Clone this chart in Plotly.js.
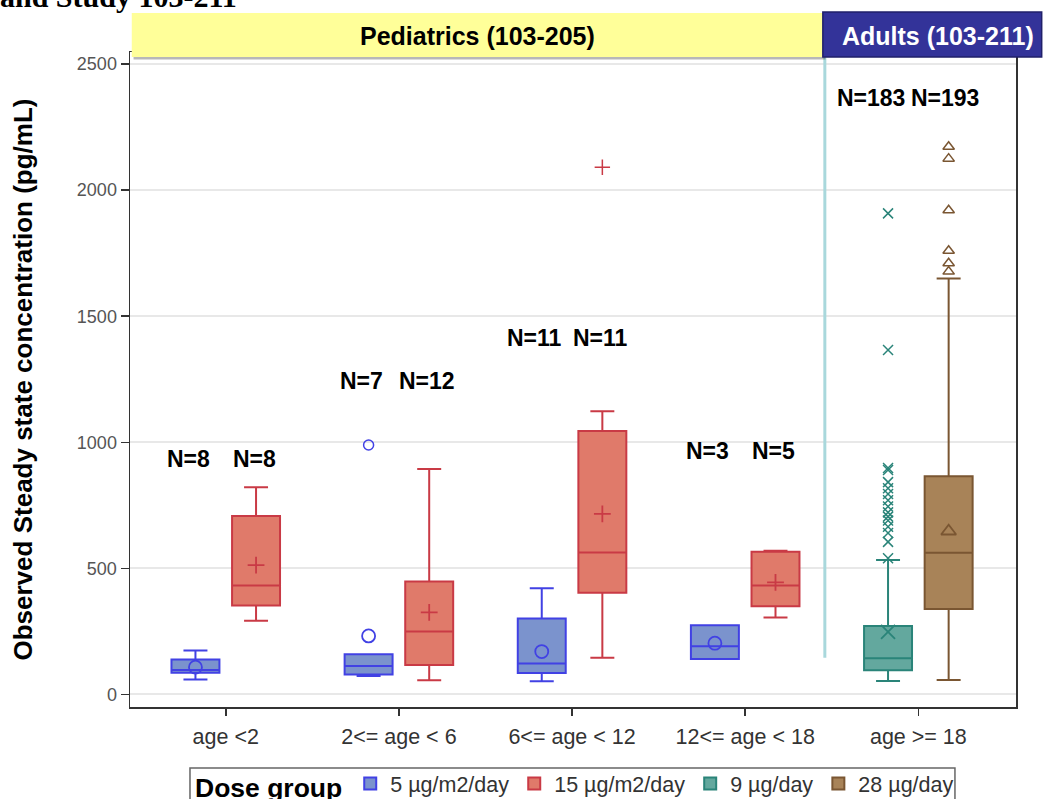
<!DOCTYPE html>
<html>
<head>
<meta charset="utf-8">
<script src="https://cdn.plot.ly/plotly-3.0.1.min.js"></script>
<style>
  html, body { margin: 0; padding: 0; background: #fff; }
  #chart { width: 1045px; height: 799px; }
</style>
</head>
<body>
<div id="chart"></div>
<script>
// Age categories on the x axis
const categories = ['age <2', '2<= age < 6', '6<= age < 12', '12<= age < 18', 'age >= 18'];
const yTicks = [0, 500, 1000, 1500, 2000, 2500];

// 5 µg/m2/day (pediatrics) box statistics per age category
const blueCat = [0, 1, 2, 3];
const blueLow = [59, 73, 52, 140];
const blueQ1 = [86, 79, 85, 140];
const blueMed = [97, 113, 123, 191];
const blueQ3 = [138, 159, 301, 274];
const blueHigh = [174, 159, 421, 274];
const blueMean = [108, 232, 170, 203];
const blueN = [8, 7, 11, 3];
const blueOutCat = [1];
const blueOutVal = [989];

// 15 µg/m2/day (pediatrics)
const redCat = [0, 1, 2, 3];
const redLow = [292, 56, 145, 305];
const redQ1 = [353, 117, 403, 350];
const redMed = [432, 249, 563, 432];
const redQ3 = [708, 448, 1045, 566];
const redHigh = [822, 894, 1123, 570];
const redMean = [513, 325, 716, 444];
const redN = [8, 12, 11, 5];
const redOutCat = [2];
const redOutVal = [2091];

// 9 µg/day (adults)
const tealCat = [4];
const tealLow = [53];
const tealQ1 = [96];
const tealMed = [143];
const tealQ3 = [271];
const tealHigh = [533];
const tealMean = [248];
const tealN = [183];
const tealOutVal = [1908, 1366, 898, 890, 842, 818, 795, 770, 745, 722, 705, 690, 665, 640, 605, 540];

// 28 µg/day (adults)
const brownCat = [4];
const brownLow = [57];
const brownQ1 = [339];
const brownMed = [562];
const brownQ3 = [865];
const brownHigh = [1650];
const brownMean = [647];
const brownN = [193];
const brownOutVal = [2172, 2125, 1920, 1760, 1710, 1677];

// Height (in concentration units) at which the N= labels sit for each category
const nLabelLevel = [933, 1242, 1413, 964, 2365];

// ---- styling ----
const SANS = 'Liberation Sans, Arial, sans-serif';
const SHIFT = 0.175;      // half distance between the paired boxes
const BOXW = 0.277;       // box width in category units

const groups = [
  { name: '5 µg/m2/day', side: -1, cat: blueCat, low: blueLow, q1: blueQ1, med: blueMed, q3: blueQ3, high: blueHigh,
    mean: blueMean, n: blueN, outCat: blueOutCat, outVal: blueOutVal, labelShift: -7,
    fill: '#7B93CD', line: '#4141E4', meanSym: 'circle-open', meanSize: 13, outSize: 10 },
  { name: '15 µg/m2/day', side: 1, cat: redCat, low: redLow, q1: redQ1, med: redMed, q3: redQ3, high: redHigh,
    mean: redMean, n: redN, outCat: redOutCat, outVal: redOutVal, labelShift: -2,
    fill: '#E07A6A', line: '#C93A45', meanSym: 'cross-thin-open', meanSize: 12, outSize: 11 },
  { name: '9 µg/day', side: -1, cat: tealCat, low: tealLow, q1: tealQ1, med: tealMed, q3: tealQ3, high: tealHigh,
    mean: tealMean, n: tealN, outCat: tealOutVal.map(() => tealCat[0]), outVal: tealOutVal, labelShift: -17,
    fill: '#63A89E', line: '#2A8479', meanSym: 'x-thin-open', meanSize: 14, outSize: 10 },
  { name: '28 µg/day', side: 1, cat: brownCat, low: brownLow, q1: brownQ1, med: brownMed, q3: brownQ3, high: brownHigh,
    mean: brownMean, n: brownN, outCat: brownOutVal.map(() => brownCat[0]), outVal: brownOutVal, labelShift: -4,
    fill: '#A88358', line: '#7A5632', meanSym: 'triangle-up-open', meanSize: 13, outSize: 10 }
];

const traces = [];
const annotations = [];

groups.forEach(g => {
  const xs = g.cat.map(c => c + g.side * SHIFT);
  traces.push({
    type: 'box', name: g.name, x: xs,
    q1: g.q1, median: g.med, q3: g.q3, lowerfence: g.low, upperfence: g.high,
    width: BOXW, whiskerwidth: 0.5, boxpoints: false,
    fillcolor: g.fill, line: { color: g.line, width: 2 },
    hoverinfo: 'skip'
  });
  traces.push({
    type: 'scatter', mode: 'markers', x: xs, y: g.mean, showlegend: false, hoverinfo: 'skip',
    marker: { symbol: g.meanSym, size: g.meanSize, color: g.line, line: { width: 1.8, color: g.line } }
  });
  traces.push({
    type: 'scatter', mode: 'markers', x: g.outCat.map(c => c + g.side * SHIFT), y: g.outVal,
    showlegend: false, hoverinfo: 'skip',
    marker: { symbol: g.meanSym, size: g.outSize, color: g.line, line: { width: 1.5, color: g.line } }
  });
  g.cat.forEach((c, i) => {
    annotations.push({
      xref: 'x', yref: 'y', x: c + g.side * SHIFT, y: nLabelLevel[c], xshift: g.labelShift,
      text: '<b>N=' + g.n[i] + '</b>', showarrow: false,
      font: { family: SANS, size: 23, color: '#000' }
    });
  });
});

// Header band labels
annotations.push({
  xref: 'paper', yref: 'paper', x: 0.392, y: 1.0245, xanchor: 'center', yanchor: 'middle',
  text: '<b>Pediatrics (103-205)</b>',
  showarrow: false, font: { family: SANS, size: 25, color: '#000' }
});
annotations.push({
  xref: 'paper', yref: 'paper', x: 0.912, y: 1.0245, xanchor: 'center', yanchor: 'middle',
  text: '<b>Adults (103-211)</b>',
  showarrow: false, font: { family: SANS, size: 25, color: '#fff' }
});
// Study caption running off the top edge
annotations.push({
  xref: 'paper', yref: 'paper', x: -0.149, y: 1.056, xanchor: 'left', yanchor: 'bottom',
  text: '<b>and Study 103-211</b>', showarrow: false,
  font: { family: 'Liberation Serif, Times New Roman, serif', size: 30, color: '#000' }
});

const shapes = [
  // separator between pediatric and adult panels
  { type: 'line', xref: 'x', yref: 'y', x0: 3.46, x1: 3.46, y0: 145, y1: 2548, layer: 'above',
    line: { color: '#A9D8DC', width: 3 } },
  // shadow under the header bands
  { type: 'rect', xref: 'paper', yref: 'paper', x0: 0.004, x1: 0.785, y0: 0.9885, y1: 0.9935, layer: 'above',
    fillcolor: 'rgba(0,0,0,0.28)', line: { width: 0 } },
  { type: 'rect', xref: 'paper', yref: 'paper', x0: 0.002, x1: 0.782, y0: 0.9924, y1: 1.0596, layer: 'above',
    fillcolor: '#FFFF99', line: { width: 0 } },
  { type: 'rect', xref: 'paper', yref: 'paper', x0: 0.782, x1: 1.029, y0: 0.9924, y1: 1.0611, layer: 'above',
    fillcolor: '#333399', line: { color: '#20206A', width: 1.5 } },
  // frame around the legend
  { type: 'rect', xref: 'paper', yref: 'paper', x0: 0.0677, x1: 0.9311, y0: -0.0931, y1: -0.16, layer: 'above',
    fillcolor: 'rgba(0,0,0,0)', line: { color: '#666', width: 1.5 } }
];

const layout = {
  width: 1045, height: 799,
  margin: { l: 130, r: 29, t: 52, b: 92, autoexpand: false },
  paper_bgcolor: '#fff', plot_bgcolor: '#fff',
  showlegend: true,
  boxmode: 'overlay',
  font: { family: SANS, color: '#333' },
  xaxis: {
    range: [-0.553, 4.564], tickmode: 'array', tickvals: categories.map((_, i) => i), ticktext: categories,
    showgrid: false, zeroline: false, showline: true, mirror: true, linecolor: '#333', linewidth: 1.5,
    ticks: 'outside', ticklen: 7, tickwidth: 1.5, tickcolor: '#333', ticklabelstandoff: 3,
    tickfont: { family: SANS, size: 21.5, color: '#333' }
  },
  yaxis: {
    range: [-50, 2548], tickmode: 'array', tickvals: yTicks,
    showgrid: true, gridcolor: '#E8E8E8', gridwidth: 2, zeroline: false,
    showline: true, mirror: true, linecolor: '#333', linewidth: 1.5,
    ticks: 'outside', ticklen: 8, tickwidth: 1.5, tickcolor: '#333',
    tickfont: { family: SANS, size: 18, color: '#555' },
    title: { text: '<b>Observed Steady state concentration (pg/mL)</b>', standoff: 37,
             font: { family: SANS, size: 26, color: '#000' } }
  },
  legend: {
    orientation: 'h', xref: 'paper', yref: 'paper', x: 0.0711, y: -0.0855, xanchor: 'left', yanchor: 'top',
    bgcolor: 'rgba(0,0,0,0)', borderwidth: 0,
    font: { family: SANS, size: 21.5, color: '#333' },
    title: { text: '<b>Dose group</b>', side: 'left', font: { family: SANS, size: 26.5, color: '#000' } },
    itemclick: false, itemdoubleclick: false
  },
  shapes: shapes,
  annotations: annotations
};

Plotly.newPlot('chart', traces, layout, { displayModeBar: false, staticPlot: true });
</script>
</body>
</html>
